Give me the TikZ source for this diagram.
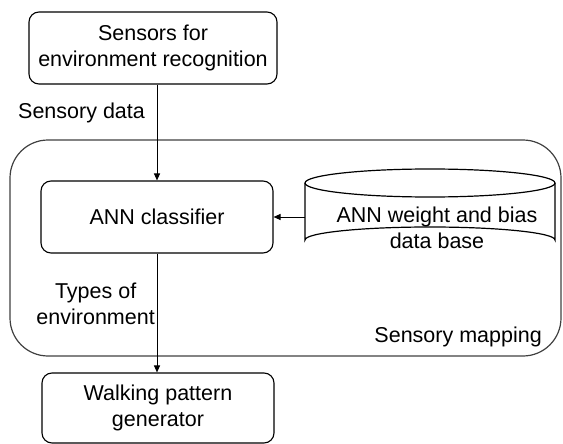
\documentclass[tikz,border=0pt]{standalone}
\usepackage{fontspec}
\setmainfont{Liberation Sans}
\usetikzlibrary{arrows.meta}
\begin{document}
\begin{tikzpicture}[x=1pt,y=-1pt,
  every node/.style={font=\fontsize{21.5}{26.5}\selectfont, inner sep=0pt},
  box/.style={draw, line width=1.1pt, rounded corners=10pt, align=center},
  arr/.style={draw, line width=1pt, -{Triangle[length=7pt,width=6pt]}},
  lbl/.style={align=center}]
\useasboundingbox (0,0) rectangle (563,444);
% outer sensory mapping region
\draw[line width=1.2pt, draw=black!75, rounded corners=38pt] (10,140) rectangle (561,356);
\node[box, minimum width=248pt, minimum height=72pt] (sens) at (153,48) {Sensors for\\environment recognition};
\node[box, minimum width=232pt, minimum height=72pt] (ann) at (157,217) {ANN classifier};
\node[box, minimum width=232pt, minimum height=70pt] (walk) at (158,408) {Walking pattern\\generator};
% database cylinder
\draw[line width=1.2pt] (305,183) -- (305,240) arc[start angle=180, end angle=360, x radius=125, y radius=13] -- (555,183);
\draw[line width=1.2pt] (430,183) ellipse[x radius=125, y radius=14];
\node[minimum width=250pt, minimum height=57pt] (db) at (430,217) {};
\node[lbl] (dbtext) at (437,228) {ANN weight and bias\\data base};
% connectors
\coordinate (sensout) at (157,84);
\draw[arr] (sens.south -| sensout) -- (ann.north -| sensout);
\draw[arr] (ann.south -| sensout) -- (walk.north -| sensout);
\draw[arr] (db.west) -- (ann.east);
% labels
\node[anchor=west] (sdata) at (18,113) {Sensory data};
\node[lbl, anchor=east] (types) at (155,304) {Types of\\environment};
\node[anchor=east] (smap) at (542,337) {Sensory mapping};
\end{tikzpicture}
\end{document}
